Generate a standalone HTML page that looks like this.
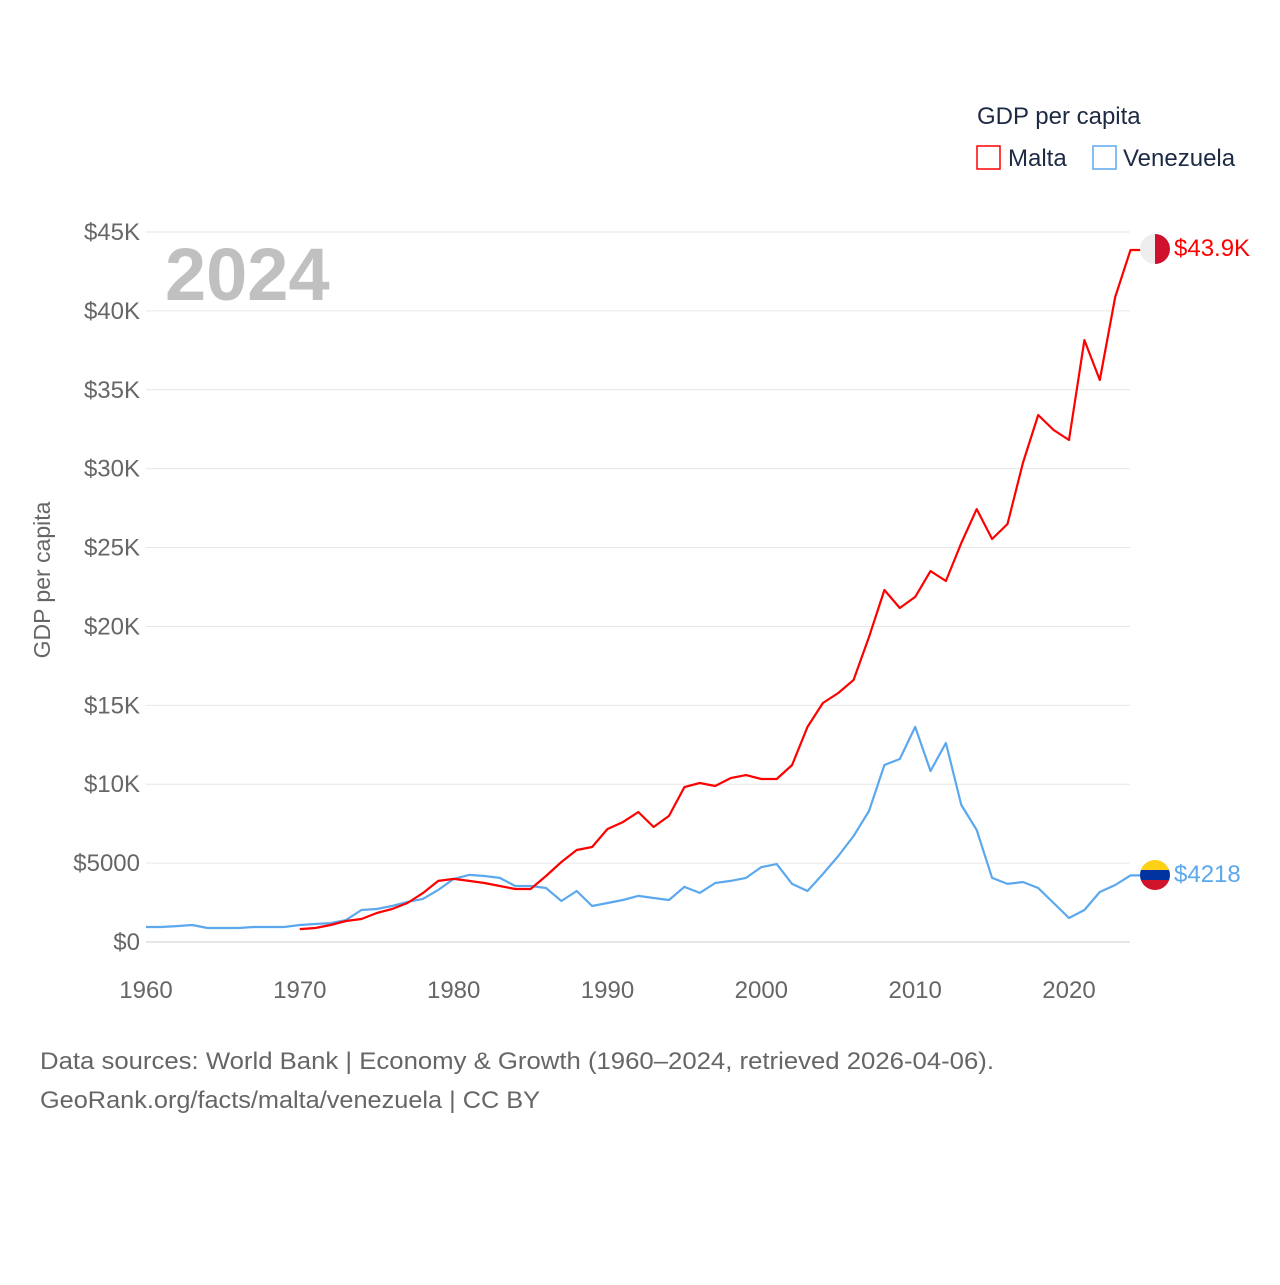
<!DOCTYPE html>
<html><head><meta charset="utf-8"><style>
body{margin:0;background:#fff;font-family:"Liberation Sans",sans-serif;}
svg text{font-family:"Liberation Sans",sans-serif;}
</style></head><body>
<svg id="chart" width="1280" height="1280" xmlns="http://www.w3.org/2000/svg">
<rect width="1280" height="1280" fill="#fff"/>
<g id="grid"></g>
<g id="yticks"></g>
<g id="xticks"></g>
<text x="165" y="300" font-size="74" font-weight="bold" fill="#c0c0c0">2024</text>
<text transform="translate(50,580) rotate(-90)" text-anchor="middle" font-size="23" fill="#666">GDP per capita</text>
<text x="977" y="124" font-size="24" fill="#1d2a44">GDP per capita</text>
<g><rect x="977" y="146" width="23" height="23" fill="none" stroke="#ff0000" stroke-width="1.5"/><text x="1008" y="166" font-size="24" fill="#1d2a44">Malta</text></g>
<g><rect x="1093" y="146" width="23" height="23" fill="none" stroke="#5ba8ee" stroke-width="1.5"/><text x="1123" y="166" font-size="24" fill="#1d2a44">Venezuela</text></g>
<g id="lines"></g>
<g>
<clipPath id="cm"><circle cx="1155" cy="249" r="15"/></clipPath>
<g clip-path="url(#cm)"><rect x="1140" y="234" width="15" height="30" fill="#eee"/><rect x="1155" y="234" width="15" height="30" fill="#d0102c"/></g>
</g>
<text x="1174" y="256" font-size="24" fill="#ff0000">$43.9K</text>
<g>
<clipPath id="cv"><circle cx="1155" cy="875" r="15"/></clipPath>
<g clip-path="url(#cv)"><rect x="1140" y="860" width="30" height="10" fill="#fcd116"/><rect x="1140" y="870" width="30" height="10" fill="#0033a0"/><rect x="1140" y="880" width="30" height="10" fill="#cf142b"/></g>
</g>
<text x="1174" y="882" font-size="24" fill="#5ba8ee">$4218</text>
<text x="40" y="1069" font-size="24" fill="#666" textLength="954" lengthAdjust="spacingAndGlyphs">Data sources: World Bank | Economy &amp; Growth (1960–2024, retrieved 2026-04-06).</text>
<text x="40" y="1108" font-size="24" fill="#666" textLength="500" lengthAdjust="spacingAndGlyphs">GeoRank.org/facts/malta/venezuela | CC BY</text>
</svg>
<script>
const yTicks=[0,5000,10000,15000,20000,25000,30000,35000,40000,45000];
const yTickLabels=["$0","$5000","$10K","$15K","$20K","$25K","$30K","$35K","$40K","$45K"];
const xTicks=[1960,1970,1980,1990,2000,2010,2020];
const maltaStart=1970;
const maltaValues=[820,890,1080,1330,1460,1840,2090,2470,3100,3870,4000,3870,3740,3550,3360,3360,4180,5070,5830,6020,7160,7600,8240,7290,7990,9820,10080,9890,10390,10580,10330,10330,11220,13630,15150,15780,16610,19330,22310,21170,21870,23510,22880,25290,27440,25540,26490,30360,33400,32450,31820,38150,35620,40880,43860];
const venStart=1960;
const venValues=[950,950,1010,1080,890,890,890,950,950,950,1080,1140,1200,1390,2030,2090,2280,2540,2730,3300,4000,4250,4180,4060,3550,3550,3420,2600,3230,2280,2470,2660,2920,2790,2660,3490,3110,3740,3870,4060,4750,4940,3680,3230,4310,5450,6720,8300,11220,11600,13630,10840,12610,8680,7100,4060,3680,3800,3420,2470,1520,2030,3170,3610,4218];
const NS="http://www.w3.org/2000/svg";
const X=y=>146+(y-1960)*(1069-146)/60;
const Y=v=>942-v*(942-232)/45000;
function mk(t,a,p){const e=document.createElementNS(NS,t);for(const k in a)e.setAttribute(k,a[k]);document.getElementById(p).appendChild(e);return e;}
yTicks.forEach((v,i)=>{
 const g=mk('line',{x1:146,x2:1130,y1:Y(v),y2:Y(v),stroke:i==0?'#ccc':'#e6e6e6','stroke-width':1},'grid');
 
 
 const t=mk('text',{x:140,y:Y(v)+8,'text-anchor':'end','font-size':24,fill:'#666'},'yticks');
 t.textContent=yTickLabels[i];
 
 
});
xTicks.forEach(v=>{
 const t=mk('text',{x:X(v),y:998,'text-anchor':'middle','font-size':24,fill:'#666'},'xticks');
 t.textContent=v;
 
 
});
function series(vals,start,color,name){
 let d=vals.map((v,i)=>(i?'L':'M')+X(start+i).toFixed(1)+','+Y(v).toFixed(1)).join('');
 const last=vals[vals.length-1];
 d+='L'+(X(start+vals.length-1)+10).toFixed(1)+','+Y(last).toFixed(1);
 const p=mk('path',{d:d,fill:'none',stroke:color,'stroke-width':2.2,'stroke-linejoin':'round'},'lines');
 
 
}
series(venValues,venStart,'#5ba8ee','venezuela-line');
series(maltaValues,maltaStart,'#ff0000','malta-line');
</script>
</body></html>
